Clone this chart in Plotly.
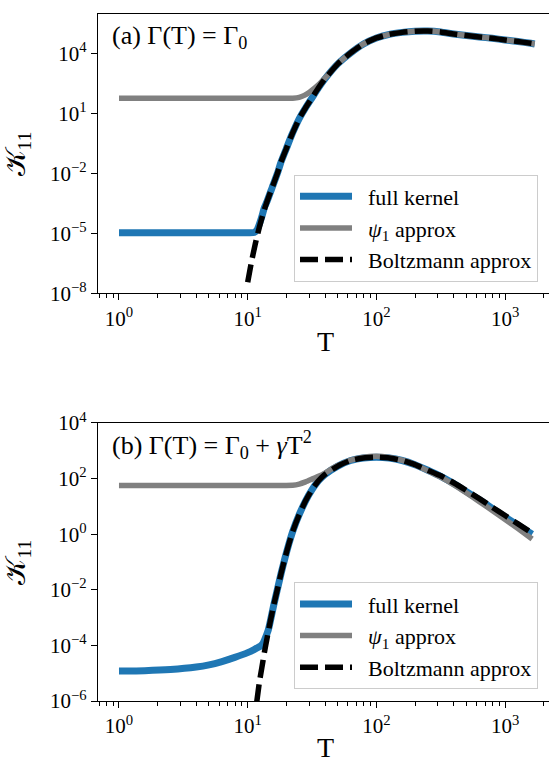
import numpy as np
import plotly.graph_objects as go

# ---------------- panel (a): Gamma(T) = Gamma_0 ----------------
a_full_logT = [0, 0.5, 1.0, 1.05, 1.07, 1.09, 1.11, 1.13, 1.15, 1.19, 1.23, 1.26, 1.30, 1.34, 1.40, 1.45,
               1.50, 1.55, 1.60, 1.70, 1.80, 1.90, 2.00, 2.10, 2.20, 2.30, 2.40, 2.50, 2.60, 2.70, 2.80,
               2.90, 3.00, 3.10, 3.20, 3.23]
a_full_logK = [-4.96, -4.96, -4.96, -4.95, -4.85, -4.55, -4.15, -3.7, -3.4, -2.7, -2.0, -1.4, -0.75, -0.1,
               0.75, 1.3, 1.8, 2.3, 2.75, 3.5, 4.05, 4.5, 4.8, 4.98, 5.08, 5.14, 5.15, 5.1, 5.0, 4.92, 4.85,
               4.78, 4.7, 4.62, 4.53, 4.5]

a_psi_logT = [0, 0.5, 1.0, 1.35, 1.40, 1.44, 1.48, 1.52, 1.55, 1.58, 1.62, 1.70, 1.80, 1.90, 2.00, 2.10,
              2.20, 2.30, 2.40, 2.50, 2.60, 2.70, 2.80, 2.90, 3.00, 3.10, 3.20, 3.23]
a_psi_logK = [1.78, 1.78, 1.78, 1.78, 1.82, 1.92, 2.08, 2.28, 2.45, 2.65, 2.92, 3.5, 4.05, 4.5, 4.8, 4.98,
              5.08, 5.14, 5.15, 5.1, 5.0, 4.92, 4.85, 4.78, 4.7, 4.62, 4.53, 4.5]

a_boltz_logT = [1.00, 1.03, 1.06, 1.09, 1.12, 1.15, 1.19, 1.23, 1.26, 1.30, 1.34, 1.40, 1.45, 1.50, 1.55,
                1.60, 1.70, 1.80, 1.90, 2.00, 2.10, 2.20, 2.30, 2.40, 2.50, 2.60, 2.70, 2.80, 2.90, 3.00,
                3.10, 3.20, 3.22]
a_boltz_logK = [-7.45, -6.4, -5.5, -4.7, -4.0, -3.4, -2.7, -2.0, -1.4, -0.75, -0.1, 0.75, 1.3, 1.8, 2.3,
                2.75, 3.5, 4.05, 4.5, 4.8, 4.98, 5.08, 5.14, 5.15, 5.1, 5.0, 4.92, 4.85, 4.78, 4.7,
                4.62, 4.53, 4.51]

# ---------------- panel (b): Gamma(T) = Gamma_0 + gamma T^2 ----------------
b_full_logT = [0, 0.2, 0.4, 0.6, 0.7, 0.8, 0.9, 1.0, 1.05, 1.10, 1.12, 1.14, 1.16, 1.175, 1.20, 1.23, 1.26,
               1.29, 1.32, 1.35, 1.40, 1.45, 1.50, 1.55, 1.60, 1.70, 1.80, 1.90, 2.00, 2.10, 2.20, 2.30,
               2.40, 2.50, 2.60, 2.70, 2.80, 2.90, 3.00, 3.10, 3.21]
b_full_logK = [-4.92, -4.91, -4.87, -4.78, -4.7, -4.58, -4.43, -4.26, -4.15, -4.02, -3.92, -3.7, -3.45,
               -3.15, -2.6, -2.0, -1.4, -0.85, -0.35, 0.1, 0.7, 1.2, 1.6, 1.92, 2.15, 2.45, 2.65, 2.74,
               2.77, 2.74, 2.65, 2.5, 2.3, 2.08, 1.82, 1.53, 1.24, 0.93, 0.62, 0.32, 0.0]

b_psi_logT = [0, 0.5, 1.0, 1.35, 1.40, 1.45, 1.50, 1.55, 1.60, 1.65, 1.70, 1.75, 1.80, 1.90, 2.00, 2.10,
              2.20, 2.30, 2.40, 2.50, 2.60, 2.70, 2.80, 2.90, 3.00, 3.10, 3.21]
b_psi_logK = [1.75, 1.75, 1.75, 1.76, 1.8, 1.88, 1.98, 2.08, 2.2, 2.34, 2.47, 2.57, 2.66, 2.77, 2.8, 2.76,
              2.66, 2.5, 2.28, 2.05, 1.78, 1.48, 1.17, 0.85, 0.53, 0.2, -0.17]

b_boltz_logT = [1.07, 1.09, 1.11, 1.13, 1.15, 1.175, 1.20, 1.23, 1.26, 1.29, 1.32, 1.35, 1.40, 1.45, 1.50,
                1.55, 1.60, 1.70, 1.80, 1.90, 2.00, 2.10, 2.20, 2.30, 2.40, 2.50, 2.60, 2.70, 2.80, 2.90,
                3.00, 3.10, 3.19]
b_boltz_logK = [-6.05, -5.35, -4.8, -4.25, -3.75, -3.15, -2.6, -2.0, -1.4, -0.85, -0.35, 0.1, 0.7, 1.2,
                1.6, 1.92, 2.15, 2.45, 2.65, 2.74, 2.77, 2.74, 2.65, 2.5, 2.3, 2.1, 1.85, 1.57, 1.28, 0.97,
                0.67, 0.37, 0.1]

x_tickvals = [1, 10, 100, 1000]
x_ticktext = ["10<sup>0</sup>", "10<sup>1</sup>", "10<sup>2</sup>", "10<sup>3</sup>"]
a_y_tickvals = [1e-8, 1e-5, 1e-2, 1e1, 1e4]
a_y_ticktext = ["10<sup>−8</sup>", "10<sup>−5</sup>", "10<sup>−2</sup>", "10<sup>1</sup>", "10<sup>4</sup>"]
b_y_tickvals = [1e-6, 1e-4, 1e-2, 1e0, 1e2, 1e4]
b_y_ticktext = ["10<sup>−6</sup>", "10<sup>−4</sup>", "10<sup>−2</sup>", "10<sup>0</sup>", "10<sup>2</sup>",
                "10<sup>4</sup>"]

series_names = ["\u00a0\u00a0full kernel", "\u00a0\u00a0<i>ψ</i><sub>1</sub> approx", "\u00a0\u00a0Boltzmann approx"]

BLUE = "#1f77b4"
GRAY = "#808080"
FONT = "Liberation Serif"

def p10(v):
    return np.power(10.0, np.array(v, dtype=float))

fig = go.Figure()

panels = [
    ("x", "y", (a_full_logT, a_full_logK), (a_psi_logT, a_psi_logK), (a_boltz_logT, a_boltz_logK), "legend"),
    ("x2", "y2", (b_full_logT, b_full_logK), (b_psi_logT, b_psi_logK), (b_boltz_logT, b_boltz_logK), "legend2"),
]
for xa, ya, full, psi, boltz, leg in panels:
    fig.add_trace(go.Scatter(x=p10(full[0]), y=p10(full[1]), mode="lines", name=series_names[0],
                             line=dict(color=BLUE, width=7, shape="spline", smoothing=0.5),
                             xaxis=xa, yaxis=ya, legend=leg))
    fig.add_trace(go.Scatter(x=p10(psi[0]), y=p10(psi[1]), mode="lines", name=series_names[1],
                             line=dict(color=GRAY, width=5.5, shape="spline", smoothing=0.5),
                             xaxis=xa, yaxis=ya, legend=leg))
    fig.add_trace(go.Scatter(x=p10(boltz[0]), y=p10(boltz[1]), mode="lines", name=series_names[2],
                             line=dict(color="black", width=5.5, dash="18px,7px", shape="spline", smoothing=0.5),
                             xaxis=xa, yaxis=ya, legend=leg))

minor_vals = [m * 10 ** e for e in range(-1, 4) for m in range(2, 10)]

def xaxis_cfg(anchor):
    return dict(type="log", range=[-0.163, 3.341], domain=[0, 1], anchor=anchor,
                showgrid=False, zeroline=False, showline=True, linecolor="black", linewidth=1.3,
                mirror=True, ticks="outside", ticklen=6, tickwidth=1.2, tickcolor="black",
                tickmode="array", tickvals=x_tickvals, ticktext=x_ticktext,
                tickfont=dict(family=FONT, size=21, color="black"),
                minor=dict(tickmode="array", tickvals=minor_vals, ticks="outside", ticklen=3.5,
                           tickwidth=1, tickcolor="black", showgrid=False))

def yaxis_cfg(anchor, rng, dom, tv, tt):
    return dict(type="log", range=rng, domain=dom, anchor=anchor,
                showgrid=False, zeroline=False, showline=True, linecolor="black", linewidth=1.3,
                ticks="outside", ticklen=6, tickwidth=1.2, tickcolor="black",
                tickmode="array", tickvals=tv, ticktext=tt,
                tickfont=dict(family=FONT, size=21, color="black"))

legend_common = dict(font=dict(family=FONT, size=22, color="black"), bgcolor="white",
                     bordercolor="#cccccc", borderwidth=1, xanchor="left", yanchor="bottom",
                     itemwidth=52, tracegroupgap=0)

fig.update_layout(
    width=549, height=769,
    margin=dict(l=98, r=0, t=5, b=68),
    paper_bgcolor="white", plot_bgcolor="white",
    showlegend=True,
    xaxis=xaxis_cfg("y"),
    yaxis=yaxis_cfg("x", [-8, 6], [0.5934, 1.0], a_y_tickvals, a_y_ticktext),
    xaxis2=xaxis_cfg("y2"),
    yaxis2=yaxis_cfg("x2", [-6, 4], [0.0, 0.4047], b_y_tickvals, b_y_ticktext),
    legend=dict(x=0.4346, y=0.6106, **legend_common),
    legend2=dict(x=0.4346, y=0.0172, **legend_common),
)

ann_font_big = dict(family=FONT, size=28, color="black")
annotations = [
    dict(text="𝒦<sub>11</sub>", x=-0.178, y=0.7967, textangle=-90),
    dict(text="𝒦<sub>11</sub>", x=-0.178, y=0.2026, textangle=-90),
    dict(text="T", x=0.5055, y=0.5237),
    dict(text="T", x=0.5055, y=-0.0675),
]
for a in annotations:
    fig.add_annotation(xref="paper", yref="paper", showarrow=False, xanchor="center", yanchor="middle",
                       font=ann_font_big, **a)

fig.add_annotation(text="(a) Γ(T) = Γ<sub>0</sub>", xref="paper", yref="paper", x=0.0266, y=0.966,
                   xanchor="left", yanchor="middle", showarrow=False,
                   font=dict(family=FONT, size=26, color="black"))
fig.add_annotation(text="(b) Γ(T) = Γ<sub>0</sub> + <i>γ</i>T<sup>2</sup>", xref="paper", yref="paper",
                   x=0.0266, y=0.372, xanchor="left", yanchor="middle", showarrow=False,
                   font=dict(family=FONT, size=26, color="black"))

fig.write_html("out.html", config={"displayModeBar": False},
               post_script="document.body.style.margin='0px';document.body.style.overflow='hidden';")
